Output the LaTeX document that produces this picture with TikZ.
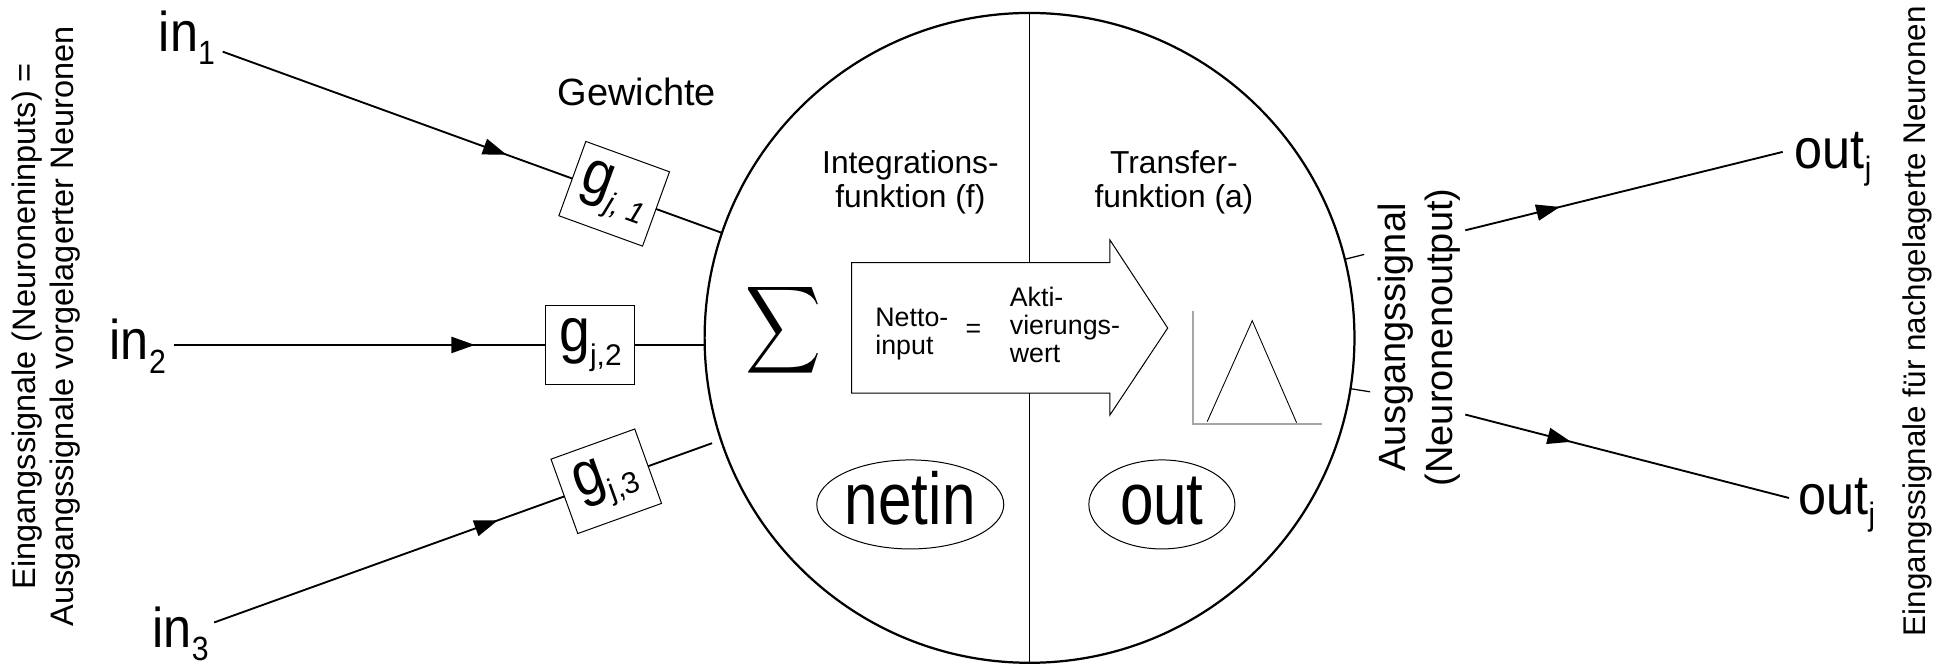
\documentclass[tikz,border=0pt]{standalone}
\usepackage{fontspec}
\setmainfont{Liberation Sans}
\usepackage{graphicx}
\usetikzlibrary{arrows.meta,decorations.markings,shapes.geometric,calc}
\newcommand\fs[1]{\fontsize{#1}{#1}\selectfont}
\newcommand\fsb[2]{\fontsize{#1}{#2}\selectfont}
\newcommand\inlabel[2]{\fs{45}#1\raisebox{-10.7pt}{\fs{27}#2}}
\newcommand\outlabel[2]{\fs{45}#1\raisebox{-9pt}{\fs{26}#2}}
\newcommand\glabel[1]{\scalebox{0.9}[1]{\fs{49.5}g}\raisebox{-10.8pt}{\fs{24}#1}}
\begin{document}
\begin{tikzpicture}[x=1pt,y=-1pt,
  conn/.style={line width=1.5pt},
  thinline/.style={line width=0.8pt},
  midarrow/.style={postaction={decorate},decoration={markings,mark=at position #1 with {\arrow{Triangle[length=19pt,width=13pt]}}}},
  gbox/.style={draw,thinline,fill=white,minimum width=71.5pt,minimum height=63.5pt,inner sep=0pt,outer sep=0pt},
  biglabel/.style={inner sep=0pt,anchor=base west,xscale=0.9},
  ovalbox/.style={ellipse,draw,thinline,minimum height=71.5pt,inner sep=0pt,text height=33pt,text depth=0pt},
  smalltext/.style={anchor=base west,align=left,font=\fsb{21.5}{22.5},inner sep=0pt}
]
\useasboundingbox (0,0) rectangle (1568,536);

% neuron body
\node[circle,draw,line width=1.8pt,minimum size=522pt,inner sep=0pt,outer sep=0pt] (neuron) at (827,271.4) {};
\draw[thinline] (neuron.north) -- (neuron.south);

% big arrow
\draw[thinline,fill=white] (684,211) -- (891.6,211) -- (891.6,192.8) -- (938,263.5) -- (891.6,333.3) -- (891.6,315.7) -- (684,315.7) -- cycle;

\node[inner sep=0pt] (sum) at (629.5,265.5) {\resizebox*{61pt}{78.6pt}{$\displaystyle\sum$}};

% multi-line nodes: base anchor = baseline of the last line
\node[font=\fsb{25.5}{28},align=center,anchor=base] (intf) at (731.3,167) {Integrations-\\funktion (f)};
\node[font=\fsb{25.5}{28},align=center,anchor=base] (trf) at (943,167) {Transfer-\\funktion (a)};

\node[smalltext] (netto) at (703,285) {Netto-\\input};
\node[font=\fs{21.5},inner sep=0pt] (eq) at (782,266) {=};
\node[smalltext] (akti) at (811,291) {Akti-\\vierungs-\\wert};

% transfer function plot
\draw[gray!70,line width=1.4pt] (958.5,250) -- (958.5,340.6) -- (1061.6,340.6);
\draw[line width=0.7pt] (969.7,338.7) -- (1005.9,257.6) -- (1041.5,339.5);

\node[ovalbox,minimum width=150.2pt] (netin) at (731.2,405.2) {\scalebox{0.82}[1]{\fs{59}netin}};
\node[ovalbox,minimum width=117.3pt] (outv) at (933.3,405.2) {\scalebox{0.82}[1]{\fs{59}out}};

% inputs
\node[biglabel] (in1) at (127.5,41.5) {\inlabel{in}{1}};
\node[biglabel] (in2) at (88,289) {\inlabel{in}{2}};
\node[biglabel] (in3) at (122.5,520) {\inlabel{in}{3}};

\coordinate (a1) at (178.9,41.5);
\coordinate (c1) at (580,187.1);
\coordinate (a2) at (140,277.1);
\coordinate (c2) at (566.1,277.1);
\coordinate (a3) at (172,500);
\coordinate (c3) at (572,356);

\node[gbox,rotate=-19.95] (g1) at ($(a1)!0.784!(c1)$) {\glabel{\textit{j, 1}}};
\node[gbox] (g2) at (474.3,277.1) {\glabel{j,2}};
\node[gbox,rotate=19.8] (g3) at ($(a3)!0.7875!(c3)$) {\glabel{j,3}};

\draw[conn,midarrow=242.5pt] (a1) -- (g1);
\draw[conn] (g1) -- (c1);
\draw[conn,midarrow=241.5pt] (a2) -- (g2);
\draw[conn] (g2) -- (c2);
\draw[conn,midarrow=242.3pt] (a3) -- (g3);
\draw[conn] (g3) -- (c3);

\node[font=\fs{30.5},anchor=base] (gew) at (511.5,85.1) {Gewichte};

% output side
\draw[line width=1pt] (neuron.14) -- ++(-14:16);
\draw[line width=1pt] (neuron.-9) -- ++(9:16);

\node[rotate=90,align=center,font=\fsb{30.5}{38}] (ausg) at (1140,271) {Ausgangssignal\\(Neuronenoutput)};

\node[biglabel] (out1) at (1441.5,135) {\outlabel{out}{j}};
\node[biglabel] (out2) at (1444.5,413) {\outlabel{out}{j}};

\coordinate (o1s) at (1177,185);
\coordinate (o1e) at (1432,122);
\coordinate (o2s) at (1177,333);
\coordinate (o2e) at (1437,400);
\draw[conn,midarrow=78.3pt] (o1s) -- (o1e);
\draw[conn,midarrow=87.8pt] (o2s) -- (o2e);

% side texts
\node[rotate=90,align=center,font=\fsb{26.1}{30}] (ltext) at (37,262) {Eingangssignale (Neuroneninputs) =\\Ausgangssignale vorgelagerter Neuronen};
\node[rotate=90,font=\fs{25.2}] (rtext) at (1540,258) {Eingangssignale für nachgelagerte Neuronen};
\end{tikzpicture}
\end{document}
